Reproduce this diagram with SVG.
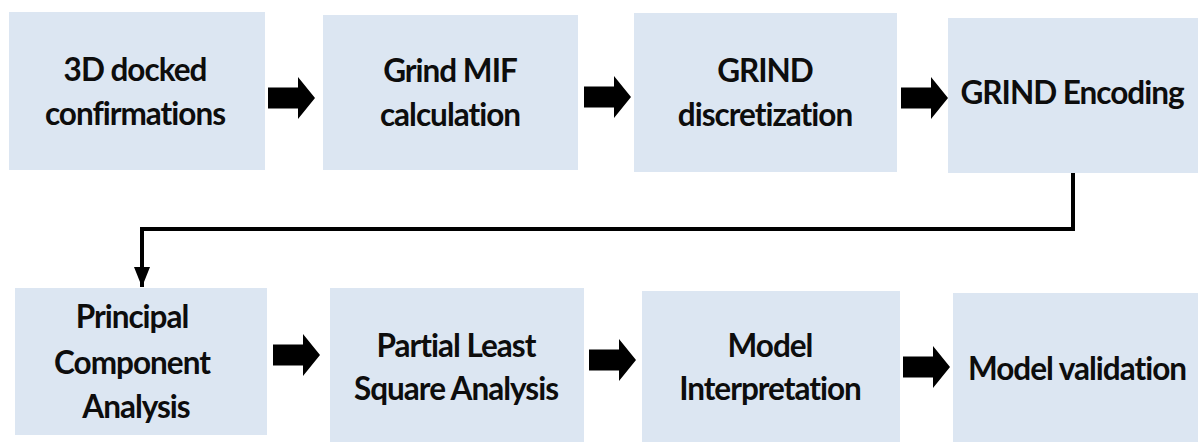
<svg xmlns="http://www.w3.org/2000/svg" width="1198" height="442" viewBox="0 0 1198 442">
  <style>
    .box { fill: #dce6f2; }
    .lbl { font-family: Lato, "Open Sans", "Liberation Sans", sans-serif; font-weight: 700; font-size: 31.5px; letter-spacing: -1px; fill: #0d0d0d; text-anchor: middle; }
    .wire { fill: none; stroke: #000; stroke-width: 4; }
  </style>
  <defs>
    <!-- block arrow, origin at the left end of the shaft, centred vertically -->
    <path id="blockArrow" d="M0,-10.5 H30 V-21 L47,0 L30,21 V10.5 H0 Z" fill="#000"/>
    <!-- head of the elbow connector, pointing along +x -->
    <marker id="tri" markerWidth="20" markerHeight="16" refX="20" refY="8" orient="auto" markerUnits="userSpaceOnUse" viewBox="0 0 20 16">
      <path d="M0,0 L20,8 L0,16 Z" fill="#000"/>
    </marker>
  </defs>

  <rect width="1198" height="442" fill="#fff"/>

  <!-- top row -->
  <g id="node-docked">
    <rect class="box" x="9" y="12" width="256" height="158"/>
    <text class="lbl" x="135" y="81">3D docked</text>
    <text class="lbl" x="135" y="125">confirmations</text>
  </g>
  <g id="node-mif">
    <rect class="box" x="323" y="15" width="255" height="155"/>
    <text class="lbl" x="450" y="82">Grind MIF</text>
    <text class="lbl" x="450" y="126">calculation</text>
  </g>
  <g id="node-discretization">
    <rect class="box" x="634" y="13" width="263" height="159"/>
    <text class="lbl" x="765" y="82">GRIND</text>
    <text class="lbl" x="765" y="126">discretization</text>
  </g>
  <g id="node-encoding">
    <rect class="box" x="948" y="18" width="250" height="155"/>
    <text class="lbl" x="1072" y="104">GRIND Encoding</text>
  </g>

  <!-- bottom row -->
  <g id="node-pca">
    <rect class="box" x="15" y="288" width="252" height="147"/>
    <text class="lbl" x="132" y="328">Principal</text>
    <text class="lbl" x="132" y="374">Component</text>
    <text class="lbl" x="136" y="418">Analysis</text>
  </g>
  <g id="node-pls">
    <rect class="box" x="330" y="288" width="254" height="154"/>
    <text class="lbl" x="456" y="357">Partial Least</text>
    <text class="lbl" x="456" y="400">Square Analysis</text>
  </g>
  <g id="node-interpretation">
    <rect class="box" x="642" y="291" width="258" height="151"/>
    <text class="lbl" x="770" y="357">Model</text>
    <text class="lbl" x="770" y="400">Interpretation</text>
  </g>
  <g id="node-validation">
    <rect class="box" x="953" y="293" width="245" height="149"/>
    <text class="lbl" x="1077" y="380">Model validation</text>
  </g>

  <!-- connectors -->
  <g id="connectors">
    <use href="#blockArrow" x="268" y="98"/>
    <use href="#blockArrow" x="584" y="97"/>
    <use href="#blockArrow" x="901" y="98"/>
    <polyline class="wire" points="1073,173 1073,229 142,229 142,287" marker-end="url(#tri)"/>
    <use href="#blockArrow" x="273" y="355"/>
    <use href="#blockArrow" x="589" y="360"/>
    <use href="#blockArrow" x="903" y="367"/>
  </g>
</svg>
